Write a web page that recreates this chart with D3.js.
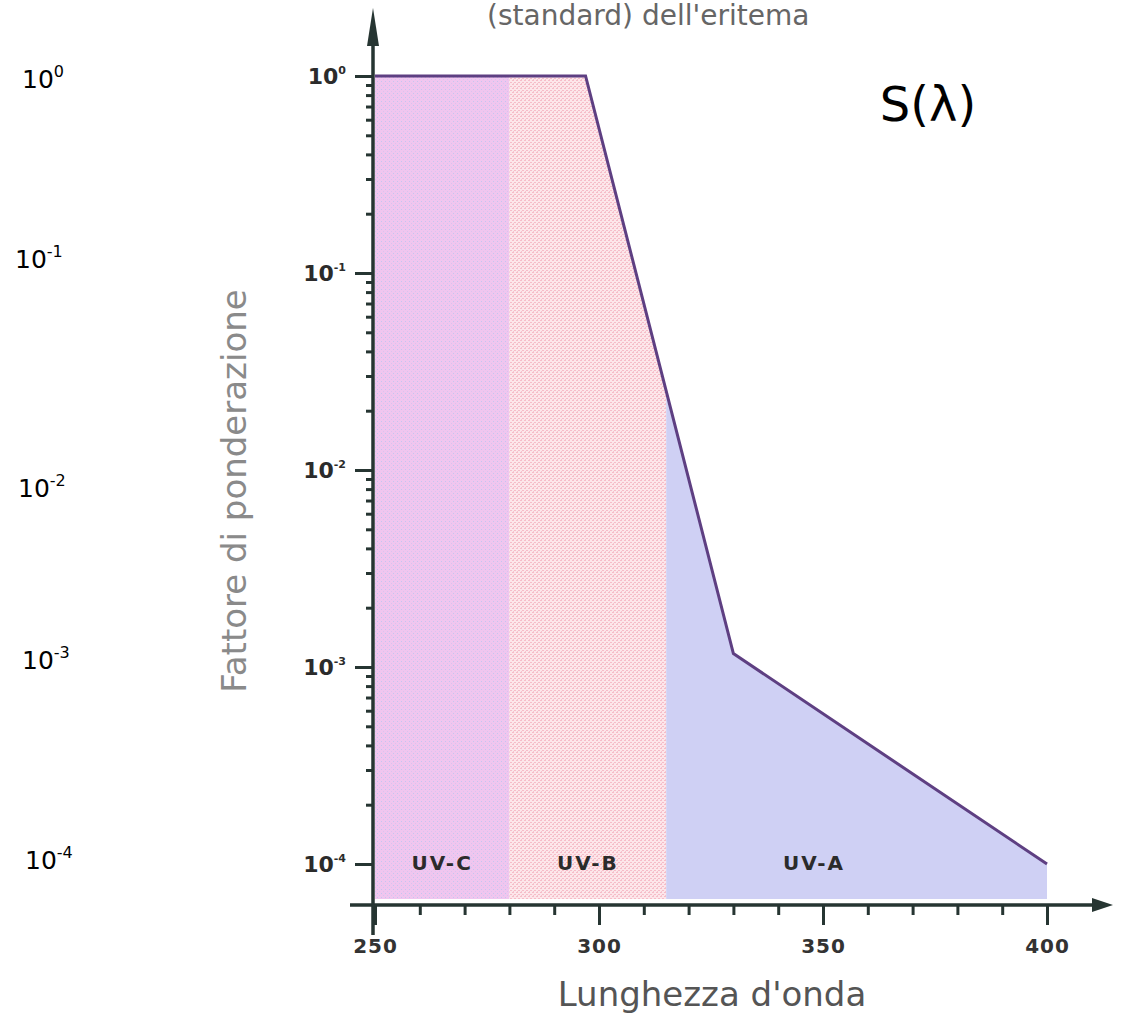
<!DOCTYPE html>
<html>
<head>
<meta charset="utf-8">
<script src="https://cdn.jsdelivr.net/npm/d3@7"></script>
<style>
  body { margin: 0; background: #fff; }
  svg { display: block; }
</style>
</head>
<body>
<div class="chart"></div>
<script>
// curve (wavelength in nm, weighting factor)
var wavelengths = [250, 297, 330, 400];
var weights = [1, 1, 0.00117, 0.0001];

// spectral bands
var bandNames = ["UV-C", "UV-B", "UV-A"];
var bandFrom = [250, 280, 315];
var bandTo = [280, 315, 400];
var bandLabelAt = [265, 297.5, 348];

var xMajor = [250, 300, 350, 400];
var yMajor = [1e-4, 1e-3, 1e-2, 1e-1, 1];
var yExp = ["0", "-1", "-2", "-3", "-4"];

var width = 1123, height = 1016;

var svg = d3.select(".chart").append("svg")
    .attr("width", width)
    .attr("height", height);

var x = d3.scaleLinear().domain([250, 400]).range([375, 1047]);
var y = d3.scaleLog().domain([1e-4, 1]).range([864, 76]);
var yBase = 899, xAxisY = 905, yAxisX = 373;

var data = wavelengths.map(function(w, i) { return {w: w, v: weights[i]}; });

// textures
var defs = svg.append("defs");
var pc = defs.append("pattern").attr("id", "pat-c")
    .attr("width", 4).attr("height", 4).attr("patternUnits", "userSpaceOnUse");
pc.append("rect").attr("width", 4).attr("height", 4).attr("fill", "#f0c6ef");
pc.append("rect").attr("x", 1).attr("y", 1).attr("width", 1).attr("height", 1).attr("fill", "#c4c6f0");
pc.append("rect").attr("x", 3).attr("y", 3).attr("width", 1).attr("height", 1).attr("fill", "#d9c3f0");

var pb = defs.append("pattern").attr("id", "pat-b")
    .attr("width", 4).attr("height", 4).attr("patternUnits", "userSpaceOnUse");
pb.append("rect").attr("width", 4).attr("height", 4).attr("fill", "#fde6ea");
pb.append("rect").attr("x", 0).attr("y", 0).attr("width", 2).attr("height", 1).attr("fill", "#f6bcc8");
pb.append("rect").attr("x", 2).attr("y", 2).attr("width", 2).attr("height", 1).attr("fill", "#f6bcc8");
pb.append("rect").attr("x", 1).attr("y", 3).attr("width", 1).attr("height", 1).attr("fill", "#f3c6cf");

var fills = ["url(#pat-c)", "url(#pat-b)", "#cfd0f4"];

bandNames.forEach(function(name, i) {
  defs.append("clipPath").attr("id", "clip-" + i)
    .append("rect")
      .attr("x", x(bandFrom[i]))
      .attr("y", 0)
      .attr("width", x(bandTo[i]) - x(bandFrom[i]))
      .attr("height", height);
});

var area = d3.area()
    .x(function(d) { return x(d.w); })
    .y0(yBase)
    .y1(function(d) { return y(d.v); });

var line = d3.line()
    .x(function(d) { return x(d.w); })
    .y(function(d) { return y(d.v); });

svg.selectAll(".band")
  .data(bandNames)
  .enter().append("path")
    .attr("class", "band")
    .attr("clip-path", function(d, i) { return "url(#clip-" + i + ")"; })
    .attr("d", area(data))
    .attr("fill", function(d, i) { return fills[i]; });

svg.append("path")
    .attr("d", line(data))
    .attr("fill", "none")
    .attr("stroke", "#5e3f82")
    .attr("stroke-width", 3);

svg.selectAll(".band-label")
  .data(bandNames)
  .enter().append("text")
    .attr("class", "band-label")
    .attr("x", function(d, i) { return x(bandLabelAt[i]); })
    .attr("y", 870)
    .attr("text-anchor", "middle")
    .style("font-family", "DejaVu Sans")
    .style("font-size", "20px")
    .style("font-weight", "bold")
    .style("letter-spacing", "2px")
    .attr("fill", "#2b2b2b")
    .text(function(d) { return d; });

var axisColor = "#263532";

// x axis
var gx = svg.append("g").attr("transform", "translate(0," + xAxisY + ")");
gx.call(d3.axisBottom(x).tickValues(d3.range(260, 400, 10).filter(function(v) { return v % 50; }))
    .tickSize(10).tickFormat(""));
gx.call(function(g) { g.select(".domain").remove(); });
var gx2 = svg.append("g").attr("transform", "translate(0," + xAxisY + ")");
gx2.call(d3.axisBottom(x).tickValues(xMajor).tickSize(20).tickPadding(14).tickFormat(d3.format("d")));
gx2.select(".domain").remove();
svg.selectAll(".tick line").attr("stroke", axisColor).attr("stroke-width", 3);
gx2.selectAll("text")
    .style("font-family", "DejaVu Sans")
    .style("font-size", "20px")
    .style("font-weight", "bold")
    .style("letter-spacing", "1px")
    .attr("fill", "#333");

svg.append("line")
    .attr("x1", 350).attr("x2", 1098)
    .attr("y1", xAxisY).attr("y2", xAxisY)
    .attr("stroke", axisColor).attr("stroke-width", 3.5);
svg.append("path")
    .attr("d", d3.line()([[1092, xAxisY - 7], [1113, xAxisY], [1092, xAxisY + 7]]) + "Z")
    .attr("fill", axisColor);

// y axis
var minor = [];
for (var k = -4; k < 0; k++) {
  for (var m = 2; m < 10; m++) minor.push(m * Math.pow(10, k));
}
var gy = svg.append("g").attr("transform", "translate(" + yAxisX + ",0)");
gy.call(d3.axisLeft(y).tickValues(minor).tickSize(7).tickFormat(""));
gy.select(".domain").remove();
var gy2 = svg.append("g").attr("transform", "translate(" + yAxisX + ",0)");
gy2.call(d3.axisLeft(y).tickValues(yMajor).tickSize(18).tickPadding(8).tickFormat(""));
gy2.select(".domain").remove();
gy.selectAll(".tick line").attr("stroke", axisColor).attr("stroke-width", 3);
gy2.selectAll(".tick line").attr("stroke", axisColor).attr("stroke-width", 3);

var tl = gy2.selectAll(".tick").append("text")
    .attr("x", -27)
    .attr("y", 7)
    .attr("text-anchor", "end")
    .style("font-family", "DejaVu Sans")
    .style("font-size", "22px")
    .style("font-weight", "bold")
    .attr("fill", "#2b2b2b");
tl.append("tspan").text("10");
tl.append("tspan")
    .attr("dy", -10)
    .style("font-size", "11px")
    .text(function(d) { return d === 1 ? "0" : "-" + Math.round(-Math.log10(d)); });

svg.append("line")
    .attr("x1", yAxisX).attr("x2", yAxisX)
    .attr("y1", 40).attr("y2", 935)
    .attr("stroke", axisColor).attr("stroke-width", 3.5);
svg.append("path")
    .attr("d", d3.line()([[yAxisX - 6, 46], [yAxisX, 8], [yAxisX + 6, 46]]) + "Z")
    .attr("fill", axisColor);

// annotations added on the scan (left column)
var ann = svg.selectAll(".ann")
  .data(yMajor.slice().reverse())
  .enter().append("text")
    .attr("class", "ann")
    .attr("x", function(d, i) { return [22, 15, 18, 22, 25][i]; })
    .attr("y", function(d, i) { return y(d) + [12, -5, 27, 2, 5][i]; })
    .style("font-family", "DejaVu Sans")
    .style("font-size", "25px")
    .attr("fill", "#000");
ann.append("tspan").text("10");
ann.append("tspan")
    .attr("dy", -11)
    .style("font-size", "16px")
    .text(function(d, i) { return yExp[i]; });

svg.append("text")
    .attr("x", 928)
    .attr("y", 121)
    .attr("text-anchor", "middle")
    .style("font-family", "DejaVu Sans")
    .style("font-size", "48px")
    .attr("fill", "#000")
    .text("S(λ)");

// titles
svg.append("text")
    .attr("x", 487)
    .attr("y", 25)
    .style("font-family", "DejaVu Sans")
    .style("font-size", "28px")
    .attr("fill", "#666")
    .text("(standard) dell'eritema");

svg.append("text")
    .attr("transform", "translate(246,491) rotate(-90)")
    .attr("text-anchor", "middle")
    .style("font-family", "DejaVu Sans")
    .style("font-size", "34px")
    .attr("fill", "#8a8a8a")
    .text("Fattore di ponderazione");

svg.append("text")
    .attr("x", 712)
    .attr("y", 1006)
    .attr("text-anchor", "middle")
    .style("font-family", "DejaVu Sans")
    .style("font-size", "34px")
    .attr("fill", "#555")
    .text("Lunghezza d'onda");
</script>
</body>
</html>
